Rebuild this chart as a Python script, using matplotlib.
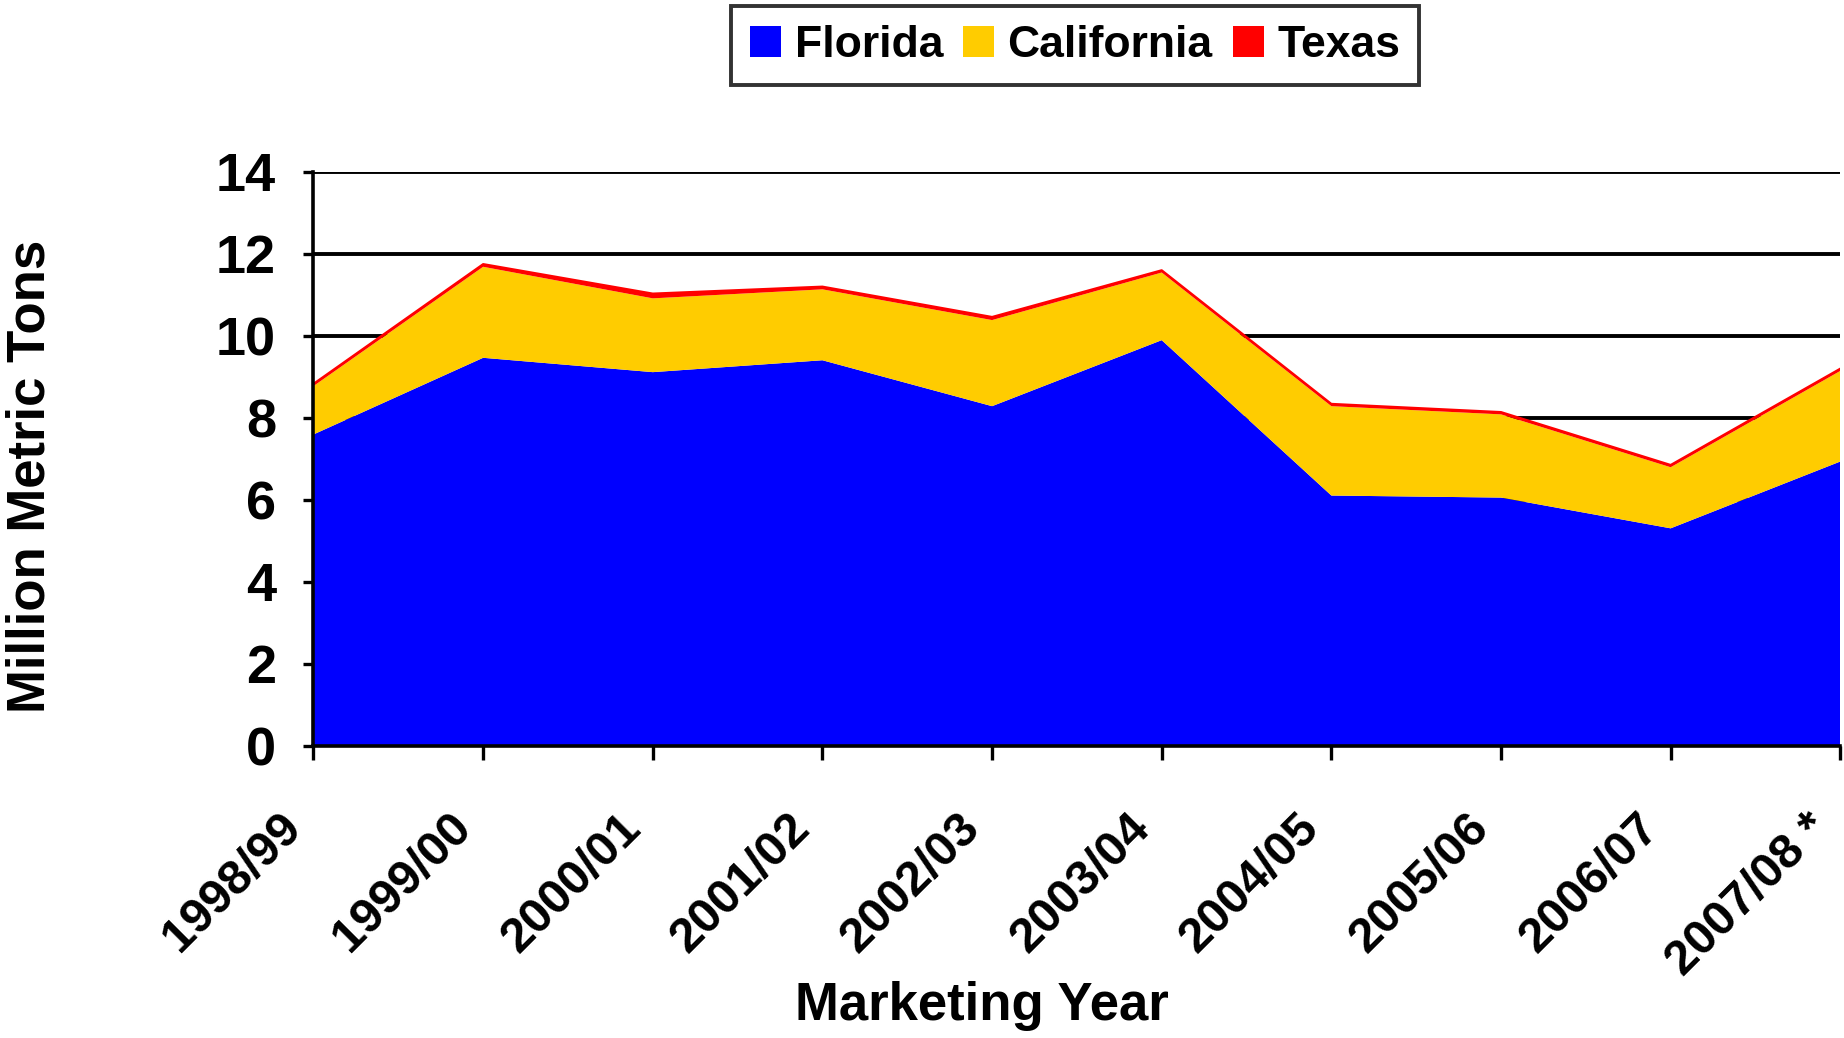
import matplotlib
matplotlib.use("Agg")
import matplotlib.pyplot as plt
import matplotlib.transforms as mtransforms
import numpy as np

# Marketing years and production (million metric tons)
years = ["1998/99", "1999/00", "2000/01", "2001/02", "2002/03",
         "2003/04", "2004/05", "2005/06", "2006/07", "2007/08 *"]
florida = [7.59, 9.46, 9.11, 9.40, 8.28, 9.89, 6.10, 6.05, 5.30, 6.93]
california = [1.18, 2.22, 1.80, 1.73, 2.10, 1.65, 2.18, 2.03, 1.49, 2.21]
texas = [0.06, 0.07, 0.12, 0.07, 0.08, 0.06, 0.06, 0.06, 0.06, 0.06]

colors = ["#0000FF", "#FFCC00", "#FF0000"]
labels = ["Florida", "California", "Texas"]

plt.rcParams["font.family"] = ["Liberation Sans", "DejaVu Sans"]
plt.rcParams["font.weight"] = "bold"

fig = plt.figure(figsize=(18.44, 10.38), dpi=100)
ax = fig.add_axes([0.170, 0.2817, 0.828, 0.5529])

x = np.arange(len(years))
stacks = ax.stackplot(x, florida, california, texas, colors=colors,
                      labels=labels, linewidth=0, zorder=2)
total = np.array(florida) + np.array(california) + np.array(texas)
ax.plot(x, total, color="#FF0000", linewidth=1.3, zorder=3)

ax.set_xlim(0, len(years) - 1)
ax.set_ylim(0, 14)
ax.set_yticks(range(0, 15, 2))
ax.set_xticks(x)
ax.set_xticklabels(years, rotation=45, ha="right", va="top",
                   rotation_mode="anchor")

ax.yaxis.grid(True, color="black", linewidth=2.8, zorder=1)
ax.set_axisbelow(True)

for side in ["top", "right"]:
    ax.spines[side].set_visible(False)
for side in ["left", "bottom"]:
    ax.spines[side].set_linewidth(2.6)
    ax.spines[side].set_zorder(4)

ax.tick_params(axis="y", labelsize=39, length=7, width=2.4, pad=20)
ax.tick_params(axis="x", labelsize=35, length=10, width=2.4, pad=12)
for lab in ax.get_yticklabels():
    lab.set_fontweight("bold")

# push the rotated year labels down and to the left, as in the original
shift = mtransforms.ScaledTranslation(-0.35, -0.29, fig.dpi_scale_trans)
for lab in ax.get_xticklabels():
    lab.set_fontweight("bold")
    lab.set_transform(lab.get_transform() + shift)

ax.set_xlabel("Marketing Year", fontsize=38, fontweight="bold")
ax.xaxis.set_label_coords(0.438, -0.41)
ax.set_ylabel("Million Metric Tons", fontsize=38, fontweight="bold")
ax.yaxis.set_label_coords(-0.169, 0.469)

leg = fig.legend(handles=stacks, labels=labels, loc="upper center",
                 bbox_to_anchor=(0.583, 0.994), ncol=3, frameon=True,
                 fancybox=False, prop={"size": 32, "weight": "bold"},
                 handlelength=0.7, handleheight=0.7, handletextpad=0.3,
                 columnspacing=0.45, borderpad=0.42, borderaxespad=0)
leg.get_frame().set_edgecolor("black")
leg.get_frame().set_linewidth(2.8)

fig.savefig("out.png", dpi=100)
